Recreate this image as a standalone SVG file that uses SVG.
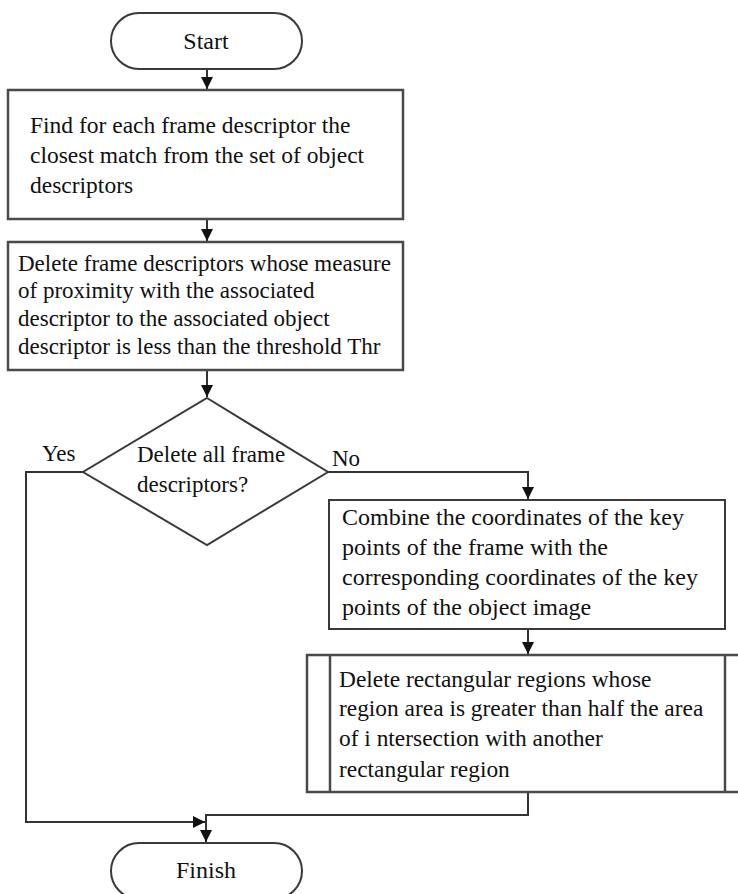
<svg xmlns="http://www.w3.org/2000/svg" width="738" height="894" viewBox="0 0 738 894">
  <style>
    .box { fill: #ffffff; stroke: #4a4a4a; stroke-width: 2.5; }
    .term { fill: #ffffff; stroke: #3a3a3a; stroke-width: 2; }
    .txt { font-family: "Liberation Serif", "Times New Roman", serif; font-size: 23px; fill: #111111; }
    .big { font-size: 24px; }
    .mid { text-anchor: middle; }
    .wire { fill: none; stroke: #333333; stroke-width: 2; }
  </style>
  <defs>
    <marker id="arrow" markerUnits="userSpaceOnUse" markerWidth="12" markerHeight="12" viewBox="0 0 12 12" refX="12" refY="6" orient="auto">
      <path d="M0,0 L12,6 L0,12 Z" fill="#111111"/>
    </marker>
  </defs>

  <rect width="738" height="894" fill="#ffffff"/>

  <g id="connectors">
    <path class="wire" d="M207,69 V89" marker-end="url(#arrow)"/>
    <path class="wire" d="M207,219 V241" marker-end="url(#arrow)"/>
    <path class="wire" d="M207,370 V397" marker-end="url(#arrow)"/>
    <path class="wire" d="M328,472 H528 V499" marker-end="url(#arrow)"/>
    <path class="wire" d="M83,472 H26 V822 H205" marker-end="url(#arrow)"/>
    <path class="wire" d="M528,629 V654" marker-end="url(#arrow)"/>
    <path class="wire" d="M528,792 V815 H206 V842" marker-end="url(#arrow)"/>
  </g>

  <g id="start">
    <rect class="term" x="111" y="13" width="191" height="56" rx="28"/>
    <text class="txt big mid" x="206" y="49">Start</text>
  </g>

  <g id="find-match">
    <rect class="box" x="8" y="90" width="395" height="129"/>
    <g class="txt" style="font-size:23.5px">
      <text x="30" y="133">Find for each frame descriptor the</text>
      <text x="30" y="163">closest match from the set of object</text>
      <text x="30" y="193">descriptors</text>
    </g>
  </g>

  <g id="delete-frame">
    <rect class="box" x="8" y="242" width="395" height="128"/>
    <text class="txt" x="18" y="271">Delete frame descriptors whose measure</text>
    <text class="txt" x="18" y="298">of proximity with the associated</text>
    <text class="txt" x="18" y="326">descriptor to the associated object</text>
    <text class="txt" x="18" y="354">descriptor is less than the threshold Thr</text>
  </g>

  <g id="decision">
    <polygon class="term" points="207,398 328,472 207,545 83,472"/>
    <text class="txt" x="137" y="462">Delete all frame</text>
    <text class="txt" x="137" y="492">descriptors?</text>
    <text class="txt" x="42" y="461">Yes</text>
    <text class="txt" x="332" y="466">No</text>
  </g>

  <g id="combine">
    <rect class="term" x="329" y="500" width="396" height="129"/>
    <text class="txt big" x="342" y="525">Combine the coordinates of the key</text>
    <text class="txt big" x="342" y="555">points of the frame with the</text>
    <text class="txt big" x="342" y="585">corresponding coordinates of the key</text>
    <text class="txt big" x="342" y="615">points of the object image</text>
  </g>

  <g id="delete-regions">
    <rect class="box" x="307" y="655" width="441" height="137"/>
    <line class="box" x1="330" y1="655" x2="330" y2="792"/>
    <line class="box" x1="725" y1="655" x2="725" y2="792"/>
    <g class="txt" style="font-size:23.4px">
      <text x="339" y="687">Delete rectangular regions whose</text>
      <text x="339" y="716">region area is greater than half the area</text>
      <text x="339" y="746">of i ntersection with another</text>
      <text x="339" y="777">rectangular region</text>
    </g>
  </g>

  <g id="finish">
    <rect class="term" x="111" y="843" width="191" height="56" rx="28"/>
    <text class="txt big mid" x="206" y="878">Finish</text>
  </g>
</svg>
